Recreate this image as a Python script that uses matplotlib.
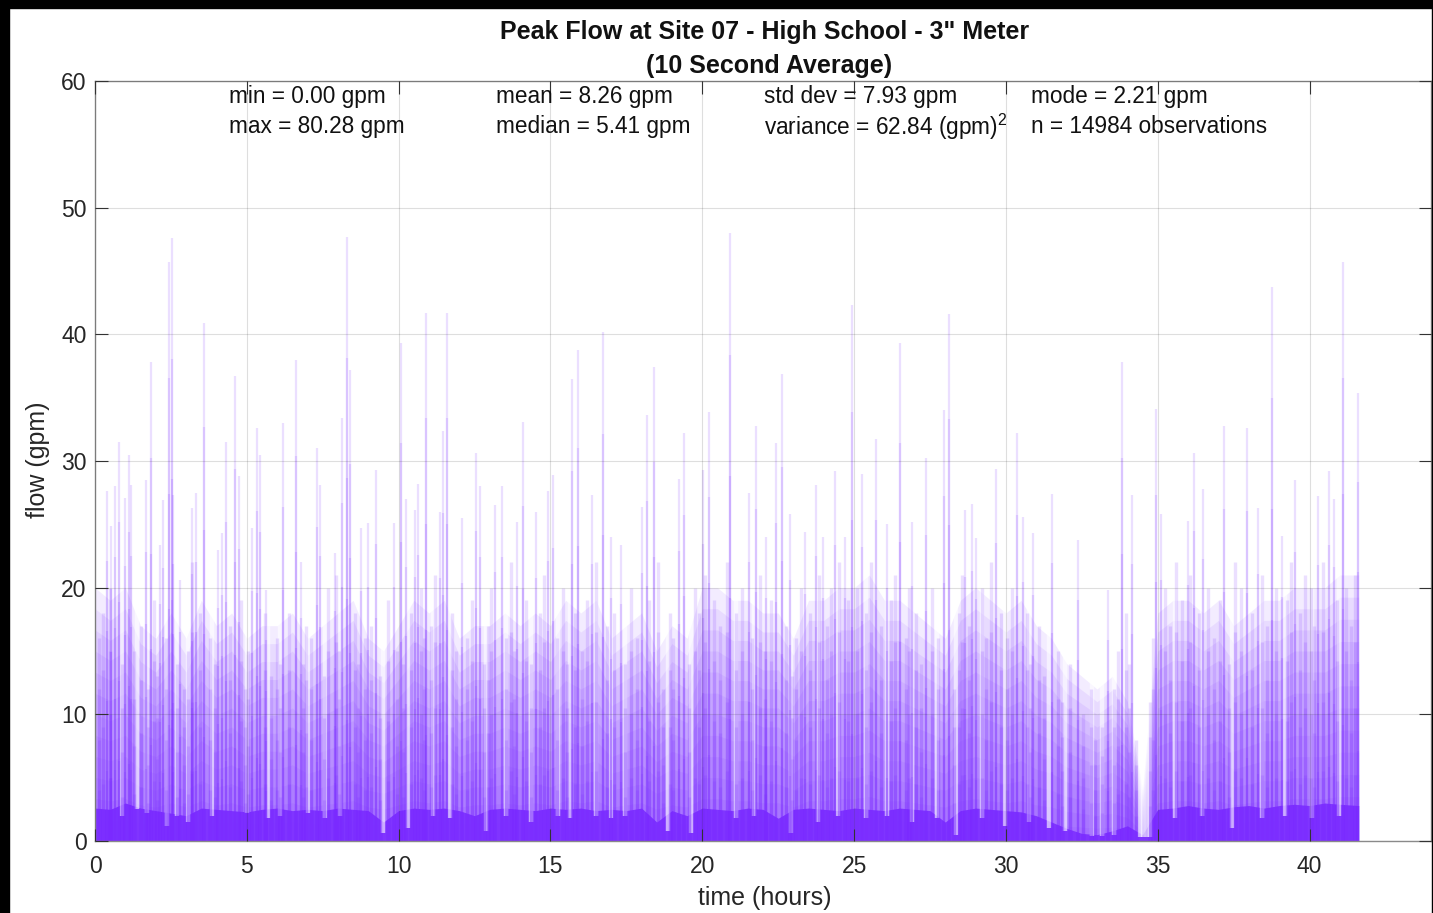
import matplotlib
matplotlib.use("Agg")
import matplotlib.pyplot as plt
from matplotlib.patches import Rectangle
import numpy as np

plt.rcParams['font.family'] = ['Liberation Sans', 'DejaVu Sans']
plt.rcParams['mathtext.fontset'] = 'custom'
plt.rcParams['mathtext.rm'] = 'Liberation Sans'

# ----------------------------------------------------------------------
# data (time in hours, flow in gpm)
# ----------------------------------------------------------------------

# tall peaks
spike_t = [0.38, 0.52, 0.66, 0.78, 0.99, 1.12, 1.18, 1.67, 1.86, 2.14, 2.23, 2.43,
           2.54, 2.58, 2.80, 3.20, 3.32, 3.60, 4.06, 4.17, 4.32, 4.61, 4.74, 5.18,
           5.32, 5.45, 5.63, 6.20, 6.63, 6.80, 7.31, 7.40, 7.89, 8.15, 8.31, 8.39,
           8.77, 8.99, 9.27, 9.84, 10.07, 10.25, 10.53, 10.64, 10.91, 11.35, 11.46,
           11.59, 12.08, 12.56, 12.67, 13.19, 13.39, 13.90, 14.09, 14.51, 14.91,
           15.08, 15.70, 15.90, 16.37, 16.72, 16.99, 17.32, 18.00, 18.17, 18.42,
           19.22, 19.41, 20.03, 20.21, 20.92, 21.55, 21.78, 22.10, 22.44, 22.61,
           22.90, 23.39, 23.74, 23.96, 24.36, 24.70, 24.92, 25.25, 25.73, 26.10,
           26.51, 26.90, 27.36, 27.97, 28.14, 28.65, 28.89, 29.00, 29.66, 30.37,
           30.56, 30.90, 31.51, 32.36, 33.37, 33.83, 34.15, 34.94, 35.10, 35.99,
           36.18, 36.49, 37.19, 37.94, 38.30, 38.76, 39.10, 39.53, 40.27, 40.65,
           40.80, 41.09, 41.59]
spike_h = [27.6, 24.9, 28.0, 31.5, 27.1, 30.5, 28.1, 28.5, 37.8, 23.4, 26.9, 45.7,
           47.6, 27.3, 20.6, 26.3, 27.5, 40.9, 23.0, 24.3, 31.5, 36.7, 28.8, 24.7,
           32.6, 30.5, 19.8, 33.0, 38.0, 22.0, 31.0, 28.1, 22.7, 33.4, 47.7, 37.2,
           24.7, 25.1, 29.3, 25.1, 39.3, 27.0, 26.1, 28.2, 41.7, 26.0, 32.4,
           41.7, 25.5, 30.6, 28.0, 26.5, 28.0, 25.2, 33.1, 26.0, 27.6,
           28.9, 36.5, 38.8, 27.3, 40.2, 24.0, 23.4, 26.4, 33.6, 37.4,
           28.6, 32.2, 29.3, 33.9, 48.0, 27.5, 32.8, 24.0, 31.4, 36.9,
           25.8, 24.4, 28.1, 24.0, 29.2, 24.0, 42.3, 29.0, 31.7, 25.0,
           39.3, 25.2, 30.2, 34.0, 41.6, 26.1, 26.6, 23.9, 29.4, 32.2,
           25.6, 24.3, 27.4, 23.8, 19.8, 37.8, 27.3, 34.1, 25.8, 25.3,
           30.6, 27.8, 32.8, 32.6, 26.3, 43.7, 24.1, 28.5, 27.2, 29.2,
           27.0, 45.7, 35.4]

# medium streaks
mid_t = [0.12, 0.27, 0.49, 0.88, 1.30, 1.53, 1.75, 1.95, 2.05, 2.35, 2.70, 2.92,
         3.05, 3.18, 3.45, 3.80, 3.95, 4.45, 4.82, 4.95, 5.05, 5.59, 5.80, 5.98,
         6.10, 6.40, 6.85, 6.95, 7.10, 7.55, 7.68, 7.95, 8.05, 8.55, 8.65, 8.90,
         9.10, 9.40, 9.65, 9.95, 10.15, 10.40, 10.75, 10.85, 11.05, 11.20, 11.75,
         11.90, 12.25, 12.40, 12.80, 12.95, 13.05, 13.55, 13.70, 13.80, 14.20,
         14.35, 14.65, 14.80, 15.20, 15.40, 15.55, 15.80, 16.05, 16.20, 16.50,
         16.85, 17.10, 17.45, 17.65, 17.85, 18.25, 18.55, 18.70, 18.95, 19.05,
         19.55, 19.75, 19.90, 20.10, 20.40, 20.60, 20.80, 21.10, 21.30, 21.65,
         21.90, 22.05, 22.25, 22.75, 22.95, 23.10, 23.25, 23.55, 23.85, 24.10,
         24.25, 24.50, 24.80, 25.10, 25.40, 25.55, 25.90, 26.20, 26.35, 26.70,
         26.80, 27.05, 27.20, 27.55, 27.75, 28.30, 28.45, 28.55, 28.80, 29.20,
         29.35, 29.50, 29.85, 30.05, 30.20, 30.70, 30.80, 31.10, 31.25, 31.70,
         31.85, 32.10, 32.55, 32.80, 32.95, 33.15, 33.55, 33.70, 33.95, 34.05,
         34.30, 34.75, 34.85, 35.25, 35.40, 35.60, 35.80, 36.05, 36.35, 36.65,
         36.85, 37.05, 37.35, 37.55, 37.75, 38.10, 38.45, 38.60, 38.90, 39.25,
         39.40, 39.70, 39.85, 40.05, 40.15, 40.45, 40.90, 41.20, 41.35, 41.50]
mid_h = [16, 18, 20, 14, 15, 17, 12, 19, 13, 16, 14, 12,
         15, 22, 18, 16, 14, 17, 19, 12, 15, 18, 13, 16,
         14, 18, 14, 17, 16, 13, 20, 21, 15, 18, 14, 16,
         17, 13, 19, 15, 14, 18, 20, 16, 17, 21, 18,
         15, 16, 19, 14, 17, 20, 16, 22, 15, 19,
         14, 18, 21, 16, 20, 14, 18, 15, 19, 22,
         17, 18, 14, 20, 16, 19, 22, 12, 18, 16,
         14, 20, 18, 21, 19, 17, 22, 18, 20, 16,
         21, 15, 19, 17, 13, 16, 20, 18, 21, 17,
         20, 22, 19, 20, 18, 22, 17, 19, 21, 16,
         20, 18, 14, 20, 16, 12, 18, 21, 17, 20,
         16, 22, 18, 16, 20, 18, 14, 17, 13, 15,
         11, 14, 10, 12, 8, 9, 12, 15, 18, 14,
         8, 11, 16, 20, 17, 22, 19, 21, 18, 20,
         16, 19, 14, 22, 20, 18, 21, 17, 20, 19,
         22, 18, 21, 20, 17, 22, 19, 20, 17, 21]

# quiet moments: flow drops to a low level for a short while
gap_t = [0.88, 1.37, 1.70, 2.36, 2.69, 3.07, 3.84, 4.99, 5.70, 6.09, 7.02, 7.57,
         8.06, 9.49, 10.31, 11.13, 11.68, 12.89, 13.54, 14.37, 15.24, 15.63, 16.50,
         17.00, 17.44, 18.86, 19.63, 21.11, 21.71, 22.92, 23.80, 24.46, 25.38,
         26.09, 26.91, 27.74, 28.34, 29.22, 29.98, 30.75, 31.41, 31.96, 32.84,
         33.16, 33.55, 34.40, 34.52, 34.64, 34.76, 35.58, 36.46, 37.45, 38.43,
         39.20, 40.08, 40.96]
gap_lo = [2.0, 2.5, 2.2, 1.2, 2.0, 1.5, 2.0, 2.2, 1.8, 2.0, 2.2, 1.8,
          2.0, 0.6, 1.0, 2.0, 1.8, 0.8, 2.0, 1.5, 2.0, 1.8, 2.0,
          1.8, 2.0, 0.8, 0.6, 1.8, 2.0, 0.6, 1.5, 2.0, 1.8,
          2.0, 1.5, 1.8, 0.5, 1.8, 1.2, 1.5, 1.0, 0.8, 0.4,
          0.4, 0.5, 0.3, 0.3, 0.3, 0.3, 1.8, 2.0, 1.0, 1.8,
          2.0, 1.8, 2.0]

# half-hour envelope of the light haze and of the dense base
band_t = [0.0, 0.5, 1.0, 1.5, 2.0, 2.5, 3.0, 3.5, 4.0, 4.5, 5.0, 5.5, 6.0, 6.5,
          7.0, 7.5, 8.0, 8.5, 9.0, 9.5, 10.0, 10.5, 11.0, 11.5, 12.0, 12.5, 13.0,
          13.5, 14.0, 14.5, 15.0, 15.5, 16.0, 16.5, 17.0, 17.5, 18.0, 18.5, 19.0,
          19.5, 20.0, 20.5, 21.0, 21.5, 22.0, 22.5, 23.0, 23.5, 24.0, 24.5, 25.0,
          25.5, 26.0, 26.5, 27.0, 27.5, 28.0, 28.5, 29.0, 29.5, 30.0, 30.5, 31.0,
          31.5, 32.0, 32.5, 33.0, 33.5, 34.0, 34.5, 35.0, 35.5, 36.0, 36.5, 37.0,
          37.5, 38.0, 38.5, 39.0, 39.5, 40.0, 40.5, 41.0, 41.62]
haze_h = [20, 19, 20, 17, 16, 18, 16, 19, 17, 18, 16, 17, 17, 18,
          16, 17, 18, 19, 16, 15, 17, 19, 18, 19, 16, 17, 17,
          18, 17, 18, 17, 19, 18, 19, 16, 17, 18, 15, 17,
          16, 20, 20, 19, 19, 18, 18, 16, 19, 19, 20, 20,
          21, 19, 19, 18, 17, 16, 19, 20, 19, 18, 19, 17,
          16, 14, 13, 12, 13, 11, 4, 18, 19, 19, 18, 19,
          17, 18, 19, 19, 20, 20, 20, 21, 21]
base_h = [2.6, 2.5, 3.0, 2.6, 2.4, 2.2, 2.0, 2.6, 2.5, 2.4, 2.3, 2.5, 2.6, 2.4,
          2.5, 2.4, 2.6, 2.5, 2.4, 1.5, 2.4, 2.6, 2.5, 2.6, 2.4, 2.0, 2.5,
          2.6, 2.5, 2.4, 2.6, 2.5, 2.6, 2.4, 2.5, 2.4, 2.6, 1.5, 2.4,
          2.0, 2.6, 2.5, 2.4, 2.6, 2.5, 1.8, 2.5, 2.6, 2.5, 2.4, 2.6,
          2.5, 2.4, 2.6, 2.5, 2.4, 1.5, 2.4, 2.6, 2.5, 2.4, 2.3, 2.0,
          1.5, 1.0, 0.6, 0.5, 0.8, 1.2, 0.5, 2.5, 2.6, 2.8, 2.6, 2.5,
          2.7, 2.8, 2.6, 2.8, 2.9, 2.8, 3.0, 2.9, 2.8]

stats = [["min = 0.00 gpm", "max = 80.28 gpm"],
         ["mean = 8.26 gpm", "median = 5.41 gpm"],
         ["std dev = 7.93 gpm", "variance = 62.84 (gpm)$^{2}$"],
         ["mode = 2.21 gpm", "n = 14984 observations"]]
stats_x = [4.42, 13.22, 22.02, 30.83]

PURPLE = '#7a2aff'

# ----------------------------------------------------------------------
# figure
# ----------------------------------------------------------------------
W, H = 1433, 913
fig = plt.figure(figsize=(W / 100, H / 100), dpi=100, facecolor='white')
ax = fig.add_axes([95 / W, (H - 841) / H, (1431 - 95) / W, 760 / H])

bt = np.array(band_t)
hz = np.array(haze_h, dtype=float)

# soft haze, denser toward the bottom
for k in range(1, 13):
    ax.fill_between(bt, 0, hz * k / 12, color=PURPLE, alpha=0.085, lw=0)
ax.fill_between(bt, 0, base_h, color=PURPLE, alpha=0.85, lw=0)

# quiet moments cut the haze
ax.vlines(gap_t, gap_lo, 24, color='white', alpha=0.6, lw=3.2)

for f in [1.0, 0.75, 0.5, 0.25]:
    ax.vlines(mid_t, 0, np.array(mid_h) * f, color=PURPLE, alpha=0.15, lw=2.4)
for f in [1.0, 0.8, 0.6, 0.4, 0.2]:
    ax.vlines(spike_t, 0, np.array(spike_h) * f, color=PURPLE, alpha=0.15, lw=1.6)

ax.set_xlim(0, 44)
ax.set_ylim(0, 60)
ax.set_xticks(range(0, 41, 5))
ax.set_yticks(range(0, 61, 10))
ax.grid(True, color='#262626', alpha=0.15, lw=0.8)
ax.set_axisbelow(False)
ax.tick_params(direction='in', length=9, width=0.8, color='#333333',
               labelsize=16.5, labelcolor='#262626', top=True, right=True)
ax.tick_params(axis='x', pad=10)
ax.tick_params(axis='y', pad=6)
for s in ax.spines.values():
    s.set_color('#8a8a8a')
    s.set_linewidth(1.0)

fig.text(765 / W, 1 - 898 / H, 'time (hours)', ha='center', va='center',
         fontsize=18, color='#262626')
fig.text(38 / W, 1 - 460 / H, 'flow (gpm)', ha='center', va='center',
         rotation=90, fontsize=18, color='#262626')

for x, (l1, l2) in zip(stats_x, stats):
    ax.text(x, 58.8, l1, fontsize=16.3, color='#111111', va='center')
    ax.text(x, 56.4, l2, fontsize=16.3, color='#111111', va='center')

fig.text(765 / W, 1 - 32 / H, 'Peak Flow at Site 07 - High School - 3" Meter',
         ha='center', va='center', fontsize=18, fontweight='bold', color='#111111')
fig.text(769 / W, 1 - 66 / H, '(10 Second Average)',
         ha='center', va='center', fontsize=18, fontweight='bold', color='#111111')

# black frame of the screenshot
for rect in [(0, 0, 9 / W, 1), (0, 1 - 8 / H, 1, 8 / H), (1432 / W, 0, 1 / W, 1)]:
    fig.patches.append(Rectangle(rect[:2], rect[2], rect[3], transform=fig.transFigure,
                                 color='black', zorder=10))

fig.savefig('out.png', dpi=100, facecolor='white')
